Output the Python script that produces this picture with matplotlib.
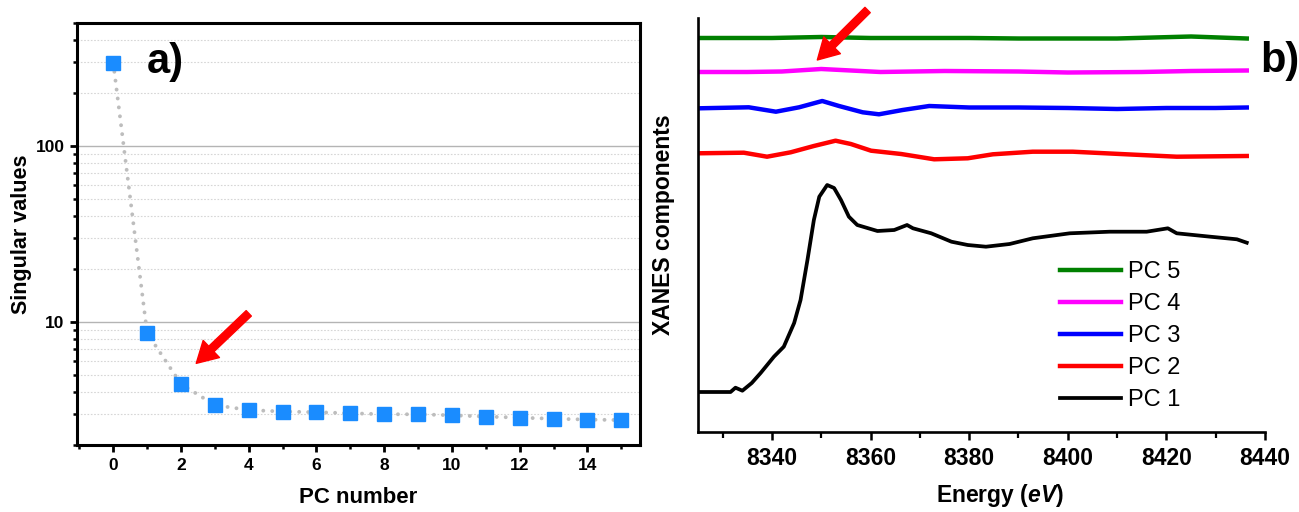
import matplotlib
matplotlib.use("Agg")
import matplotlib.pyplot as plt
from matplotlib.ticker import MultipleLocator, LogLocator, NullFormatter, FixedLocator, FixedFormatter

plt.rcParams['font.family'] = ['Liberation Sans', 'DejaVu Sans']
plt.rcParams['mathtext.fontset'] = 'custom'
plt.rcParams['mathtext.bf'] = 'Liberation Sans:bold'
plt.rcParams['mathtext.it'] = 'Liberation Sans:italic'
try:
    plt.rcParams['mathtext.bfit'] = 'Liberation Sans:bold:italic'
    ENERGY_LABEL = r'Energy ($\mathbfit{eV}$)'
except Exception:
    ENERGY_LABEL = 'Energy (eV)'

# ---------------- data: panel a ----------------
pc_number = [0, 1, 2, 3, 4, 5, 6, 7, 8, 9, 10, 11, 12, 13, 14, 15]
singular_values = [297, 8.66, 4.44, 3.37, 3.16, 3.10, 3.07, 3.03, 2.99, 2.99,
                   2.95, 2.90, 2.86, 2.82, 2.79, 2.77]

# ---------------- data: panel b (arbitrary units, offset) ----------------
pc1_energy = [8324.8, 8331.6, 8332.6, 8334.0, 8335.9, 8337.7, 8340.4, 8342.4, 8344.5,
              8345.8, 8347.2, 8348.5, 8349.6, 8351.2, 8352.6, 8354.0, 8355.6, 8357.3,
              8361.4, 8364.8, 8367.4, 8368.6, 8372.3, 8376.4, 8379.7, 8383.4, 8388.2,
              8392.9, 8400.4, 8408.5, 8416.0, 8420.3, 8422.1, 8428.9, 8434.3, 8436.3]
pc1_values = [0.400, 0.400, 0.443, 0.413, 0.490, 0.590, 0.753, 0.853, 1.090,
              1.320, 1.720, 2.120, 2.353, 2.470, 2.440, 2.320, 2.153, 2.070,
              2.010, 2.020, 2.070, 2.037, 1.987, 1.903, 1.870, 1.853, 1.880,
              1.937, 1.987, 2.003, 2.003, 2.037, 1.987, 1.953, 1.927, 1.893]

pc2_energy = [8324.8, 8334.3, 8339.0, 8343.8, 8348.5, 8352.9, 8356.0, 8360.1, 8366.2,
              8372.9, 8379.7, 8384.8, 8392.9, 8401.0, 8411.9, 8422.1, 8436.3]
pc2_values = [2.787, 2.793, 2.753, 2.797, 2.860, 2.913, 2.880, 2.813, 2.780,
              2.727, 2.737, 2.777, 2.803, 2.803, 2.777, 2.753, 2.760]

pc3_energy = [8325.2, 8335.3, 8340.8, 8345.5, 8350.2, 8353.6, 8358.4, 8361.7, 8366.5,
              8371.9, 8380.0, 8390.0, 8400.0, 8410.0, 8420.0, 8430.0, 8436.3]
pc3_values = [3.237, 3.247, 3.203, 3.247, 3.310, 3.260, 3.197, 3.177, 3.220,
              3.260, 3.245, 3.245, 3.240, 3.230, 3.240, 3.240, 3.245]

pc4_energy = [8325, 8335, 8342, 8350, 8356, 8362, 8375, 8390, 8400, 8415, 8425, 8436.3]
pc4_values = [3.600, 3.600, 3.605, 3.630, 3.615, 3.600, 3.610, 3.605, 3.595, 3.600, 3.610, 3.615]

pc5_energy = [8325, 8340, 8350, 8360, 8380, 8390, 8410, 8425, 8436.3]
pc5_values = [3.940, 3.940, 3.950, 3.940, 3.940, 3.935, 3.935, 3.955, 3.935]

fig = plt.figure(figsize=(12.99, 5.12), dpi=100)

# ================= panel a =================
ax1 = fig.add_axes([77/1299, (512-445)/512, (640-77)/1299, (445-23)/512])
ax1.set_yscale('log')
ax1.set_ylim(2, 500)
ax1.set_xlim(-1.07, 15.55)

ax1.yaxis.set_major_locator(FixedLocator([10, 100]))
ax1.yaxis.set_major_formatter(FixedFormatter(['10', '100']))
ax1.yaxis.set_minor_locator(LogLocator(base=10, subs=[2, 3, 4, 5, 6, 7, 8, 9], numticks=10))
ax1.yaxis.set_minor_formatter(NullFormatter())
ax1.xaxis.set_major_locator(MultipleLocator(2))
ax1.xaxis.set_minor_locator(MultipleLocator(1))

ax1.grid(True, which='major', axis='y', color='#b4b4b4', lw=1.0, ls='-', zorder=0)
ax1.grid(True, which='minor', axis='y', color='#d6d6d6', lw=0.8, ls=(0, (1.5, 1.5)), zorder=0)
ax1.set_axisbelow(True)

ax1.plot(pc_number, singular_values, color='#bdbdbd', lw=2.8,
         ls=(0, (0.01, 2.3)), dash_capstyle='round', zorder=2)
ax1.plot(pc_number, singular_values, ls='none', marker='s', markersize=10.5,
         color='#1a8cff', markeredgecolor='#1a8cff', zorder=3)

for s in ax1.spines.values():
    s.set_linewidth(2.2)
ax1.tick_params(axis='both', which='major', direction='out', length=5, width=2,
                labelsize=12.5, pad=4)
ax1.tick_params(axis='both', which='minor', direction='out', length=3, width=1.8)
for lab in ax1.get_xticklabels() + ax1.get_yticklabels():
    lab.set_fontweight('bold')

ax1.set_xlabel('PC number', fontsize=16, fontweight='bold')
ax1.set_ylabel('Singular values', fontsize=15.5, fontweight='bold')
ax1.xaxis.set_label_coords(0.5, -0.10)
ax1.yaxis.set_label_coords(-0.08, 0.5)

ax1.text(1.0, 300, 'a)', fontsize=30, fontweight='bold', va='center', ha='left')
ax1.annotate('', xy=(2.45, 5.82), xytext=(4.0, 11.2),
             arrowprops=dict(arrowstyle='simple,head_length=0.75,head_width=0.85,tail_width=0.27',
                             color='red', shrinkA=0, shrinkB=0, mutation_scale=20))

# ================= panel b =================
ax2 = fig.add_axes([698/1299, (512-432)/512, (1265-698)/1299, (432-18)/512])
ax2.set_xlim(8325, 8440)
ax2.set_ylim(0, 4.14)

ax2.plot(pc5_energy, pc5_values, color='#008000', lw=3.2, label='PC 5')
ax2.plot(pc4_energy, pc4_values, color='#ff00ff', lw=3.2, label='PC 4')
ax2.plot(pc3_energy, pc3_values, color='#0000ff', lw=3.2, label='PC 3')
ax2.plot(pc2_energy, pc2_values, color='#ff0000', lw=3.2, label='PC 2')
ax2.plot(pc1_energy, pc1_values, color='black', lw=2.7, label='PC 1')

ax2.spines['top'].set_visible(False)
ax2.spines['right'].set_visible(False)
ax2.spines['left'].set_linewidth(1.9)
ax2.spines['bottom'].set_linewidth(1.9)
ax2.set_yticks([])
ax2.xaxis.set_major_locator(MultipleLocator(20))
ax2.xaxis.set_minor_locator(MultipleLocator(10))
ax2.tick_params(axis='x', which='major', direction='out', length=6, width=1.8,
                labelsize=16.5, pad=5)
ax2.tick_params(axis='x', which='minor', direction='out', length=4, width=1.6)
for lab in ax2.get_xticklabels():
    lab.set_fontweight('bold')

ax2.set_xlabel(ENERGY_LABEL, fontsize=16.5, fontweight='bold')
ax2.set_ylabel('XANES components', fontsize=16.5, fontweight='bold')
ax2.xaxis.set_label_coords(0.533, -0.12)
ax2.yaxis.set_label_coords(-0.04, 0.5)

ax2.legend(loc='upper left', bbox_to_anchor=(0.638, 0.412), frameon=False,
           fontsize=17, handlelength=2.6, handletextpad=0.3, labelspacing=0.42,
           borderpad=0, borderaxespad=0)

ax2.annotate('', xy=(8349.2, 3.72), xytext=(8359.4, 4.22),
             arrowprops=dict(arrowstyle='simple,head_length=0.75,head_width=0.85,tail_width=0.27',
                             color='red', shrinkA=0, shrinkB=0, mutation_scale=20),
             annotation_clip=False)

fig.text(1280/1299, 1 - 61/512, 'b)', fontsize=30, fontweight='bold', va='center', ha='center')

fig.savefig('out.png', dpi=100)
